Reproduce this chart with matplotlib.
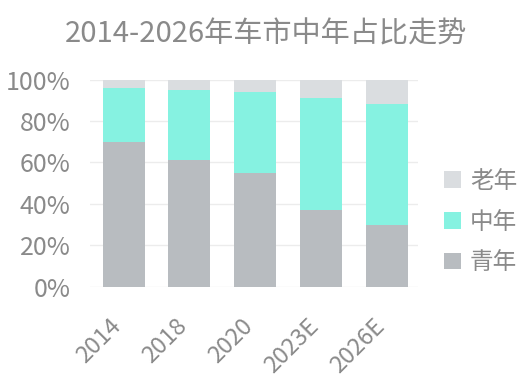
import matplotlib

matplotlib.use('Agg')
import matplotlib.pyplot as plt
import matplotlib.transforms as mtransforms
import numpy as np

plt.rcParams['font.family'] = ['Noto Sans CJK SC', 'DejaVu Sans']

# 数据
years = ['2014', '2018', '2020', '2023E', '2026E']
youth = [70, 61, 55, 37, 30]    # 青年
middle = [26, 34, 39, 54, 58]   # 中年
old = [4, 5, 6, 9, 12]          # 老年
series_names = ['青年', '中年', '老年']
colors = ['#b8bcc0', '#86f2e1', '#dadde0']
text_color = '#8a8a8a'

fig = plt.figure(figsize=(5.3, 3.83), dpi=100)
ax = fig.add_axes([0.170, 0.2514, 0.619, 0.541])

x = np.arange(len(years))
bottom = np.zeros(len(years))
bars = []
for vals, name, c in zip([youth, middle, old], series_names, colors):
  b = ax.bar(x, vals, width=0.64, bottom=bottom, color=c, label=name,
             zorder=2)
  bars.append(b)
  bottom += np.array(vals)

ax.set_xlim(-0.51, 4.48)
ax.set_ylim(0, 100)
ax.set_yticks(range(0, 101, 20))
ax.set_yticklabels([f'{v}%' for v in range(0, 101, 20)])
ax.yaxis.grid(True, color='#ececec', linewidth=1, zorder=0)
ax.set_axisbelow(True)
for s in ax.spines.values():
  s.set_visible(False)
ax.tick_params(length=0, colors=text_color)
ax.tick_params(axis='y', labelsize=18, pad=14)
ax.set_xticks(x)
ax.set_xticklabels(years, rotation=45, ha='right', rotation_mode='anchor',
                   fontsize=17)
ax.tick_params(axis='x', pad=20)
# 标签整体左移
shift = mtransforms.ScaledTranslation(-14 / 100, 0, fig.dpi_scale_trans)
for lbl in ax.get_xticklabels():
  lbl.set_transform(lbl.get_transform() + shift)

fig.text(0.502, 0.909, '2014-2026年车市中年占比走势', ha='center', va='center',
         fontsize=21, color=text_color)

# 图例：老年在上
handles = bars[::-1]
leg = fig.legend(handles, series_names[::-1], loc='center left',
                 bbox_to_anchor=(0.838, 0.42), frameon=False, fontsize=17,
                 handlelength=0.7, handleheight=0.7, handletextpad=0.4,
                 labelspacing=0.75, borderpad=0, borderaxespad=0,
                 labelcolor=text_color)

plt.savefig('out.png', dpi=100)
plt.close()
